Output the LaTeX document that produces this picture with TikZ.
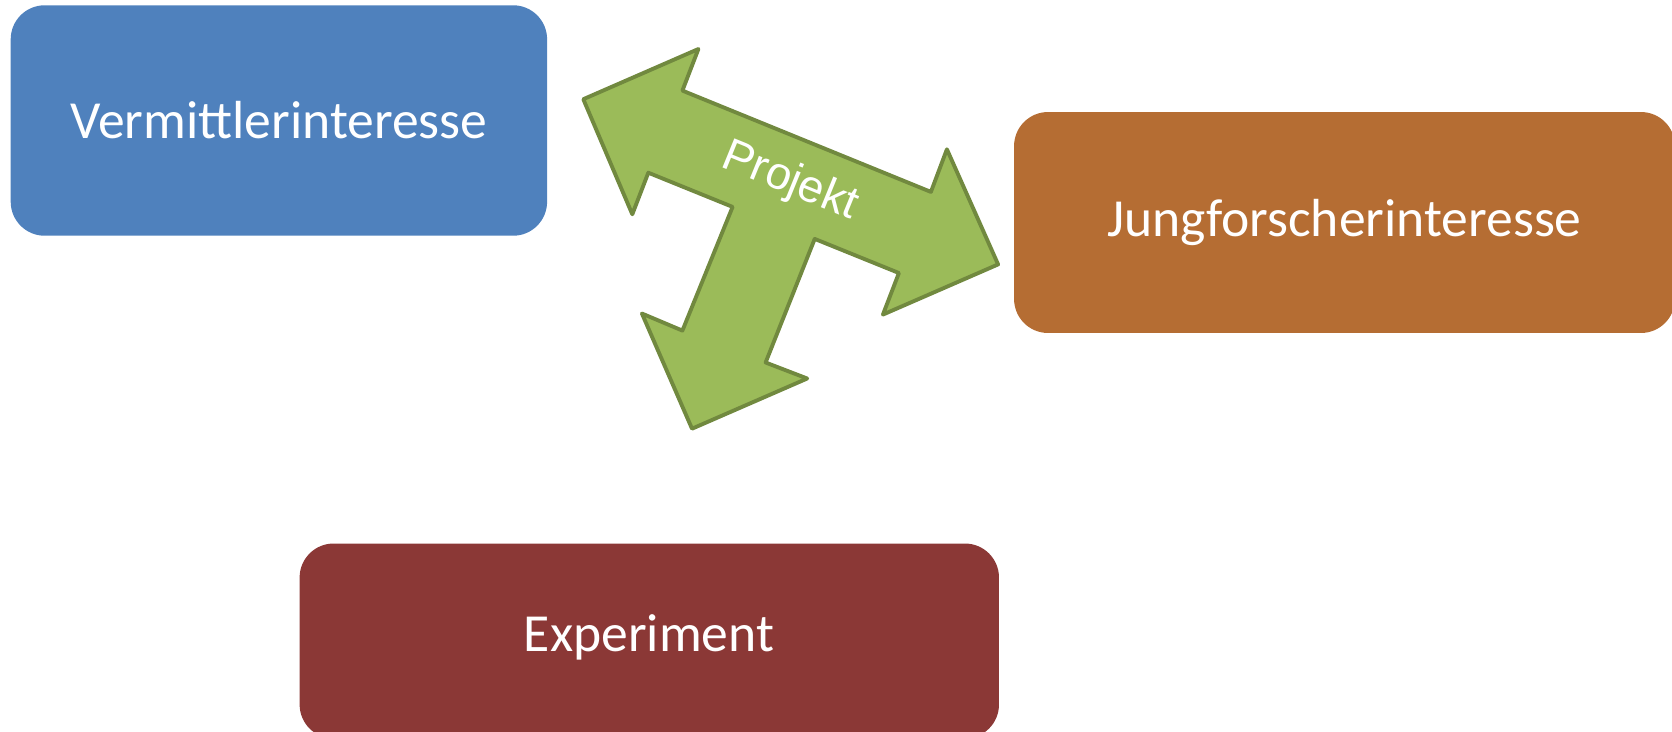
\documentclass[tikz,border=0pt]{standalone}
\usepackage{fontspec}
\setmainfont{Carlito}
\newfontfamily\arialfont{Liberation Sans}
\usepackage{tikz}
\usetikzlibrary{arrows}

\definecolor{vblue}{HTML}{4F81BD}
\definecolor{jorange}{HTML}{B56D33}
\definecolor{ered}{HTML}{8B3836}
\definecolor{pgreen}{HTML}{9BBB59}
\definecolor{pgreendark}{HTML}{71893F}

\tikzset{
  interest/.style={rectangle,rounded corners=0.68cm,inner sep=0pt,text=white,
    font=\fontsize{30.5}{36}\selectfont},
}

\begin{document}
\begin{tikzpicture}[line cap=round,line join=round,x=0.02cm,y=-0.02cm]
\useasboundingbox (0,0) rectangle (1672,731);
\node[interest,fill=vblue,minimum width=10.73cm,minimum height=4.61cm] (vermittler) at (278.9,120.5) {Vermittlerinteresse};
\node[interest,fill=jorange,minimum width=13.22cm,minimum height=4.42cm] (jungforscher) at (1344.5,222.5) {Jungforscherinteresse};
\node[interest,fill=ered,minimum width=13.99cm,minimum height=3.9cm] (experiment) at (649.3,641) {};
\node[text=white,font=\fontsize{30.5}{36}\selectfont] at (649,637.6) {Experiment};
\draw [fill=pgreen,draw=pgreendark,line width=2.2pt] (583.3,99.2) -- (698.4,49.0) -- (682.4,90.6) -- (930.9,191.9) -- (946.9,149.3) -- (998.1,264.4) -- (882.9,314.6) -- (898.9,273.0) -- (814.7,238.9) -- (765.6,362.5) -- (807.2,378.5) -- (692.0,428.7) -- (641.9,313.5) -- (682.4,330.6) -- (732.6,206.9) -- (648.3,172.7) -- (632.3,214.3) -- cycle;
\node[text=white,font=\arialfont\fontsize{26}{30}\selectfont,rotate=-22.2] (projekt) at (790,182) {Projekt};
\end{tikzpicture}
\end{document}
